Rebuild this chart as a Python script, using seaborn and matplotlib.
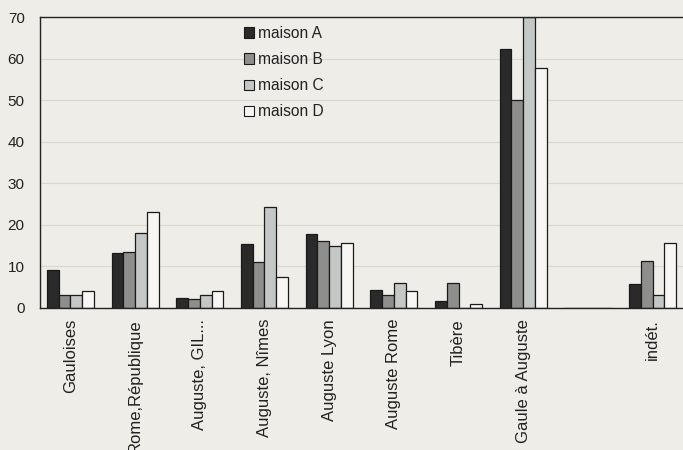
import matplotlib
matplotlib.use("Agg")
import matplotlib.pyplot as plt
import seaborn as sns
import pandas as pd
from matplotlib.patches import Patch

categories = ["Gauloises", "Rome,République", "Auguste, GIL...", "Auguste, Nîmes",
              "Auguste Lyon", "Auguste Rome", "Tibère", "Gaule à Auguste", " ", "indét."]
series = ["maison A", "maison B", "maison C", "maison D"]
maison_a = [9, 13.2, 2.4, 15.4, 17.7, 4.3, 1.7, 62.2, 0, 5.7]
maison_b = [3, 13.5, 2, 11, 16, 3, 6, 50, 0, 11.3]
maison_c = [3, 18, 3, 24.3, 15, 6, 0, 70, 0, 3.1]
maison_d = [4, 23, 4, 7.5, 15.5, 4, 1, 57.8, 0, 15.5]
yticks = [0, 10, 20, 30, 40, 50, 60, 70]

rows = []
for name, vals in zip(series, [maison_a, maison_b, maison_c, maison_d]):
    for c, v in zip(categories, vals):
        rows.append({"cat": c, "maison": name, "val": v})
df = pd.DataFrame(rows)

colors = ["#2b2a2a", "#8e8e8c", "#c3c7c6", "#f7f6f2"]
bg = "#efede8"

sns.set_theme(style="white")
plt.rcParams['font.family'] = ['Liberation Sans', 'DejaVu Sans']

fig = plt.figure(figsize=(6.83, 4.5), dpi=100, facecolor=bg)
ax = fig.add_axes([0.0586, 0.316, 0.9414, 0.646])
ax.set_facecolor(bg)

sns.barplot(data=df, x="cat", y="val", hue="maison", order=categories,
            hue_order=series, palette=colors, width=0.73, ax=ax,
            edgecolor="#1a1a1a", linewidth=0.9, saturation=1, legend=False)

ax.set_ylim(0, 70)
ax.set_xlim(-0.47, 9.47)
ax.set_yticks(yticks)
ax.set_yticklabels([str(t) for t in yticks], fontsize=11, color="#222222")
ax.set_xticks(range(len(categories)))
ax.set_xticklabels(categories, rotation=90, fontsize=12, color="#222222",
                   ha="center", va="top")
ax.tick_params(axis="both", length=0)
ax.tick_params(axis="y", pad=11)
ax.tick_params(axis="x", pad=8)
ax.set_xlabel("")
ax.set_ylabel("")
ax.yaxis.grid(True, color="#d9d7d2", linewidth=0.8)
ax.set_axisbelow(True)
for s in ["left", "top", "bottom"]:
    ax.spines[s].set_visible(True)
    ax.spines[s].set_color("#222222")
    ax.spines[s].set_linewidth(1.0)
ax.spines["right"].set_visible(False)

handles = [Patch(facecolor=c, edgecolor="#1a1a1a", linewidth=0.8) for c in colors]
leg = ax.legend(handles, series, loc="upper left", bbox_to_anchor=(0.295, 1.018),
                frameon=False, fontsize=11.2, handlelength=0.64, handleheight=0.64,
                handletextpad=0.3, labelspacing=0.72)
for t in leg.get_texts():
    t.set_color("#222222")

fig.savefig("out.png", dpi=100, facecolor=bg)
